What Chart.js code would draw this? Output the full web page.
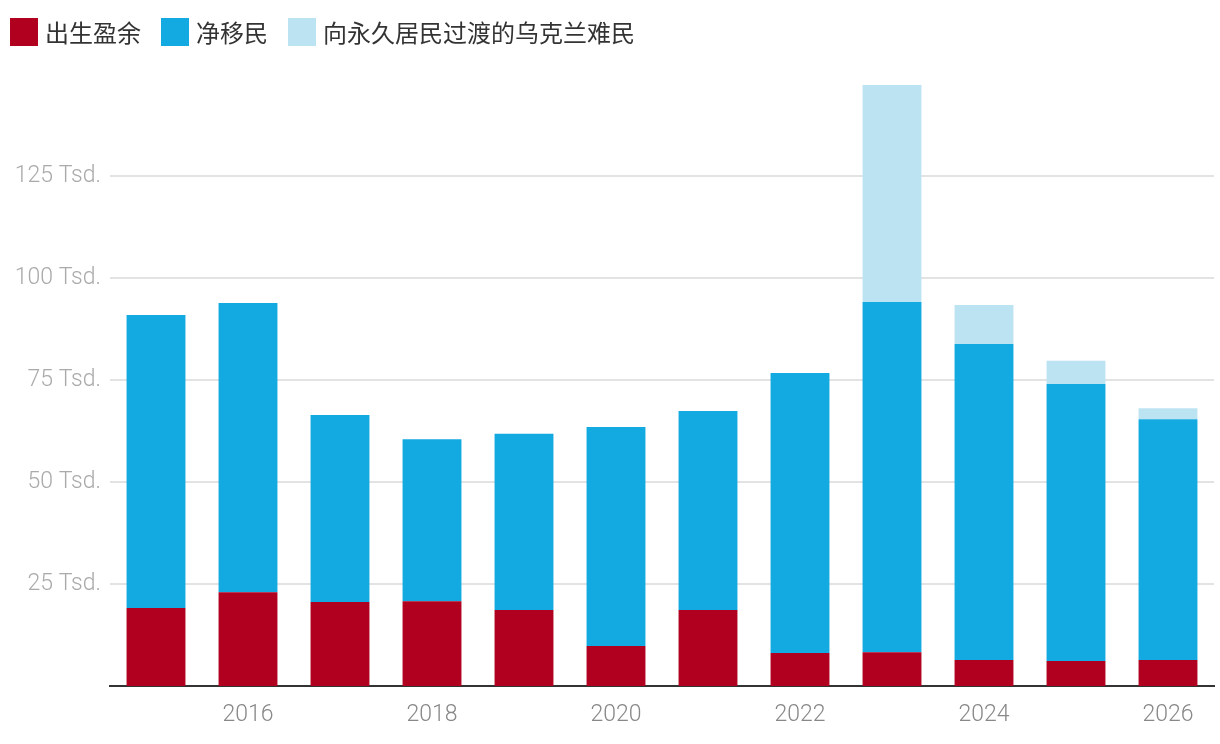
<!DOCTYPE html>
<html>
<head>
<meta charset="utf-8">
<script src="https://cdn.jsdelivr.net/npm/chart.js@4.4.1/dist/chart.umd.min.js"></script>
<style>
  html, body { margin: 0; padding: 0; background: #fff; }
  #wrap { position: relative; width: 1220px; height: 744px; }
  #legend {
    position: absolute; left: 10px; top: 14px; display: flex; align-items: center;
    font-family: "Noto Sans CJK SC", "Noto Sans", sans-serif; font-size: 24px; color: #333;
  }
  .item { display: flex; align-items: center; margin-right: 20px; }
  .box { width: 28px; height: 28px; margin-right: 7px; }
</style>
</head>
<body>
<div id="wrap">
  <canvas id="chart" width="1220" height="744"></canvas>
  <div id="legend"></div>
</div>
<script>
// Data
const years = ['2015', '2016', '2017', '2018', '2019', '2020', '2021', '2022', '2023', '2024', '2025', '2026'];
const birthSurplus = [19.1, 23.0, 20.6, 20.8, 18.6, 9.8, 18.6, 8.1, 8.3, 6.4, 6.1, 6.4];
const netMigration = [71.8, 70.9, 45.8, 39.7, 43.2, 53.7, 48.8, 68.6, 85.8, 77.4, 67.9, 59.0];
const ukraineRefugees = [0, 0, 0, 0, 0, 0, 0, 0, 53.2, 9.6, 5.7, 2.7];
const yTicks = [25, 50, 75, 100, 125];
const seriesNames = ['出生盈余', '净移民', '向永久居民过渡的乌克兰难民'];
const colors = ['#b1001f', '#13a9e1', '#bce3f2'];

// HTML legend
const legend = document.getElementById('legend');
seriesNames.forEach((name, i) => {
    const item = document.createElement('div');
    item.className = 'item';
    item.innerHTML = '<div class="box" style="background:' + colors[i] + '"></div><span>' + name + '</span>';
    legend.appendChild(item);
});

const axisFont = { family: 'Roboto, "Liberation Sans", sans-serif', size: 23, weight: 300 };

const ctx = document.getElementById('chart').getContext('2d');
new Chart(ctx, {
    type: 'bar',
    data: {
        labels: years,
        datasets: [
            { label: seriesNames[0], data: birthSurplus, backgroundColor: colors[0] },
            { label: seriesNames[1], data: netMigration, backgroundColor: colors[1] },
            { label: seriesNames[2], data: ukraineRefugees, backgroundColor: colors[2] }
        ]
    },
    options: {
        responsive: false,
        animation: false,
        layout: { padding: { top: 85, left: 0, right: 6, bottom: 0 } },
        datasets: { bar: { categoryPercentage: 1, barPercentage: 0.64 } },
        plugins: { legend: { display: false }, tooltip: { enabled: false } },
        scales: {
            x: {
                stacked: true,
                grid: { display: false, drawTicks: false },
                border: { color: '#333', width: 2 },
                ticks: {
                    autoSkip: false, maxRotation: 0, padding: 15, color: '#888', font: axisFont,
                    callback: function (v, i) { return i % 2 === 1 ? years[i] : ''; }
                },
                afterFit: s => { s.height = 58; }
            },
            y: {
                stacked: true,
                min: 0,
                max: 147.3,
                grid: { color: '#e3e3e3', lineWidth: 2, drawTicks: false },
                border: { display: false },
                ticks: {
                    padding: 9, color: '#aaa', font: axisFont,
                    callback: v => v + ' Tsd.'
                },
                afterBuildTicks: s => { s.ticks = yTicks.map(v => ({ value: v })); },
                afterFit: s => { s.width = 110; }
            }
        }
    }
});
</script>
</body>
</html>
